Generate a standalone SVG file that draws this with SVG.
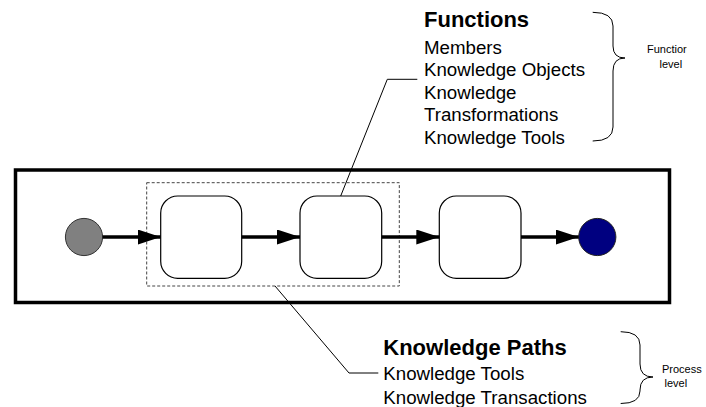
<svg xmlns="http://www.w3.org/2000/svg" width="706" height="407" viewBox="0 0 706 407">
<style>
  text { font-family: "Liberation Sans", Arial, sans-serif; fill: #000; }
  .h { font-size: 22px; font-weight: bold; }
  .t { font-size: 18.7px; }
  .s { font-size: 11px; }
  .state { fill: #fff; stroke: #000; stroke-width: 1.2; }
  .flow { stroke: #000; stroke-width: 3.5; fill: none; marker-end: url(#ah); }
  .thin { stroke: #000; stroke-width: 1; fill: none; }
</style>
<defs>
  <marker id="ah" markerUnits="userSpaceOnUse" markerWidth="26" markerHeight="18" refX="23" refY="7.5" orient="auto">
    <path d="M0,0 L23,7.5 L0,15 Z" fill="#000"/>
  </marker>
  <clipPath id="fclip"><rect x="600" y="0" width="86.5" height="100"/></clipPath>
</defs>
<rect width="706" height="407" fill="#fff"/>

<g id="process-box">
  <rect x="15.5" y="170" width="654" height="132.5" fill="#fff" stroke="#000" stroke-width="3.5"/>
</g>
<g id="knowledge-path-group">
  <rect x="146.7" y="182.7" width="252.6" height="103.3" fill="none" stroke="#444" stroke-width="1" stroke-dasharray="3,2"/>
</g>
<g id="start">
  <circle cx="84" cy="237" r="18.6" fill="#808080" stroke="#333" stroke-width="1"/>
</g>
<g id="step1"><rect class="state" x="160.7" y="196" width="81" height="82.3" rx="17"/></g>
<g id="step2"><rect class="state" x="300" y="196" width="81.7" height="82.3" rx="17"/></g>
<g id="step3"><rect class="state" x="439.3" y="196" width="81.7" height="82.3" rx="17"/></g>
<g id="end">
  <circle cx="597.3" cy="237" r="18.6" fill="#000080" stroke="#222" stroke-width="1"/>
</g>

<g id="connectors">
  <line class="flow" x1="102.6" y1="237" x2="160.7" y2="237"/>
  <line class="flow" x1="241.7" y1="237" x2="300" y2="237"/>
  <line class="flow" x1="381.7" y1="237" x2="439.3" y2="237"/>
  <line class="flow" x1="521" y1="237" x2="578.7" y2="237"/>
  <polyline class="thin" points="340.7,196 387.3,79.3 417.3,79.3"/>
  <polyline class="thin" points="275,286 349,373 378.3,373"/>
</g>

<g id="functions-label">
  <text class="h" x="424" y="27.3">Functions</text>
  <text class="t" x="424" y="53.5">Members</text>
  <text class="t" x="424" y="76">Knowledge Objects</text>
  <text class="t" x="424" y="98.5">Knowledge</text>
  <text class="t" x="424" y="121">Transformations</text>
  <text class="t" x="424" y="143.5">Knowledge Tools</text>
</g>
<g id="function-level">
  <path class="thin" d="M592.7,12.3 Q613,12.3 613,26 L613,46 Q613,58 625,58 Q613,58 613,71 L613,127 Q613,141 592.7,141"/>
  <g clip-path="url(#fclip)">
    <text class="s" x="647" y="53">Function</text>
  </g>
  <text class="s" x="659.5" y="68">level</text>
</g>

<g id="paths-label">
  <text class="h" x="383.3" y="355">Knowledge Paths</text>
  <text class="t" x="383.3" y="380">Knowledge Tools</text>
  <text class="t" x="383.3" y="404">Knowledge Transactions</text>
</g>
<g id="process-level">
  <path class="thin" d="M620.7,331.7 Q640,331.7 640,345 L640,364 Q640,377 653,377 Q640,377 640,390 L640,391 Q640,403.5 620.7,403.5"/>
  <text class="s" x="662" y="373">Process</text>
  <text class="s" x="664.5" y="387">level</text>
</g>
</svg>
